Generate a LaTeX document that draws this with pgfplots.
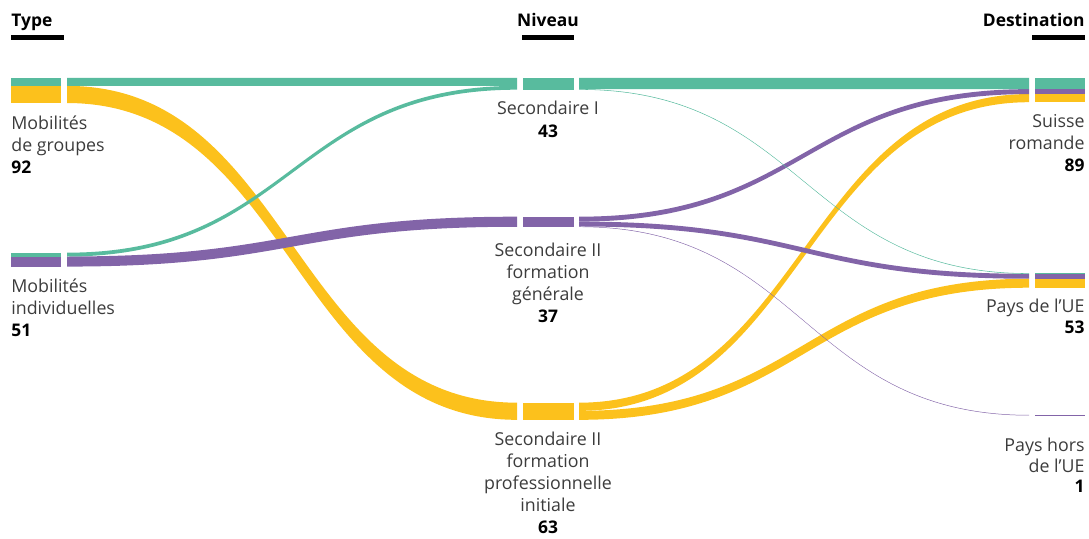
\documentclass[border=0pt]{standalone}
\usepackage{pgfplots}
\pgfplotsset{compat=1.18}
\usepackage{fontspec}
\setmainfont{Open Sans}

\definecolor{cteal}{RGB}{88,187,158}
\definecolor{cpurple}{RGB}{130,100,168}
\definecolor{cyellow}{RGB}{252,193,28}
\definecolor{ctext}{RGB}{60,60,60}

% px per unit of flow
\def\s{0.272}

% \flow{colour}{x0}{top0}{off0}{x1}{top1}{off1}{value}
\newcommand{\flow}[8]{%
  \fill[#1] (axis cs:#2,{#3+#4*\s}) .. controls (axis cs:{(#2+#5)/2},{#3+#4*\s}) and (axis cs:{(#2+#5)/2},{#6+#7*\s}) .. (axis cs:#5,{#6+#7*\s})
    -- (axis cs:#5,{#6+(#7+#8)*\s}) .. controls (axis cs:{(#2+#5)/2},{#6+(#7+#8)*\s}) and (axis cs:{(#2+#5)/2},{#3+(#4+#8)*\s}) .. (axis cs:#2,{#3+(#4+#8)*\s}) -- cycle;}

% \nbar{colour}{x0}{x1}{top}{off}{value}
\newcommand{\nbar}[6]{%
  \fill[#1] (axis cs:#2,{#4+#5*\s}) rectangle (axis cs:#3,{#4+(#5+#6)*\s});}

\newcommand{\lab}[4]{\node[anchor=#3, inner sep=0pt, text=ctext, font=\fontsize{8.9}{11}\selectfont] at (axis cs:#1,#2) {#4};}
\newcommand{\num}[4]{\node[anchor=#3, inner sep=0pt, text=black, font=\fontsize{8.7}{11}\selectfont\bfseries] at (axis cs:#1,#2) {#4};}

\begin{document}
\begin{tikzpicture}
\begin{axis}[
  scale only axis, width=544.5pt, height=269.5pt,
  xmin=0, xmax=1089, ymin=0, ymax=539, y dir=reverse,
  hide axis, clip=false,
]
\path (axis cs:0,0) rectangle (axis cs:1089,539);

% flows: yellow, then purple, then teal
\flow{cyellow}{67}{78}{29}{517}{402.7}{0}{63}
\flow{cyellow}{579}{402.7}{0}{1029}{78}{59}{30}
\flow{cyellow}{579}{402.7}{30}{1029}{273.3}{20}{33}

\flow{cpurple}{67}{252.7}{14}{517}{216.7}{0}{37}
\flow{cpurple}{579}{216.7}{0}{1029}{78}{41}{18}
\flow{cpurple}{579}{216.7}{18}{1029}{273.3}{2}{18}
\flow{cpurple}{579}{216.7}{36}{1029}{415}{0}{1.8}

\flow{cteal}{67}{78}{0}{517}{78}{0}{29}
\flow{cteal}{67}{252.7}{0}{517}{78}{29}{14}
\flow{cteal}{579}{78}{0}{1029}{78}{0}{41}
\flow{cteal}{579}{78}{41}{1029}{273.3}{0}{2}

% nodes, column Type
\nbar{cteal}{11}{61}{78}{0}{29}
\nbar{cyellow}{11}{61}{78}{29}{63}
\nbar{cteal}{11}{61}{252.7}{0}{14}
\nbar{cpurple}{11}{61}{252.7}{14}{37}
% column Niveau
\nbar{cteal}{523}{574}{78}{0}{43}
\nbar{cpurple}{523}{574}{216.7}{0}{37}
\nbar{cyellow}{523}{574}{402.7}{0}{63}
% column Destination
\nbar{cteal}{1035}{1085}{78}{0}{41}
\nbar{cpurple}{1035}{1085}{78}{41}{18}
\nbar{cyellow}{1035}{1085}{78}{59}{30}
\nbar{cteal}{1035}{1085}{273.3}{0}{2}
\nbar{cpurple}{1035}{1085}{273.3}{2}{18}
\nbar{cyellow}{1035}{1085}{273.3}{20}{33}
\nbar{cpurple}{1035}{1085}{415}{0}{1.8}

% headers
\num{11}{27}{base west}{Type}
\num{548}{27}{base}{Niveau}
\num{1085}{27}{base east}{Destination}
\fill[black] (axis cs:11,35.5) rectangle (axis cs:64,40);
\fill[black] (axis cs:522,35.5) rectangle (axis cs:574,40);
\fill[black] (axis cs:1032,35.5) rectangle (axis cs:1085,40);

% labels Type
\lab{11}{130}{base west}{Mobilités}
\lab{11}{152}{base west}{de groupes}
\num{11}{174}{base west}{92}
\lab{11}{293}{base west}{Mobilités}
\lab{11}{315}{base west}{individuelles}
\num{11}{337}{base west}{51}

% labels Niveau
\lab{548}{115}{base}{Secondaire I}
\num{548}{138}{base}{43}
\lab{548}{257}{base}{Secondaire II}
\lab{548}{279}{base}{formation}
\lab{548}{301}{base}{générale}
\num{548}{323}{base}{37}
\lab{548}{446}{base}{Secondaire II}
\lab{548}{468}{base}{formation}
\lab{548}{490}{base}{professionnelle}
\lab{548}{512}{base}{initiale}
\num{548}{534}{base}{63}

% labels Destination
\lab{1085}{128}{base east}{Suisse}
\lab{1085}{150}{base east}{romande}
\num{1085}{172}{base east}{89}
\lab{1085}{313}{base east}{Pays de l’UE}
\num{1085}{334}{base east}{53}
\lab{1085}{452}{base east}{Pays hors}
\lab{1085}{473}{base east}{de l’UE}
\num{1085}{493}{base east}{1}
\end{axis}
\end{tikzpicture}
\end{document}
